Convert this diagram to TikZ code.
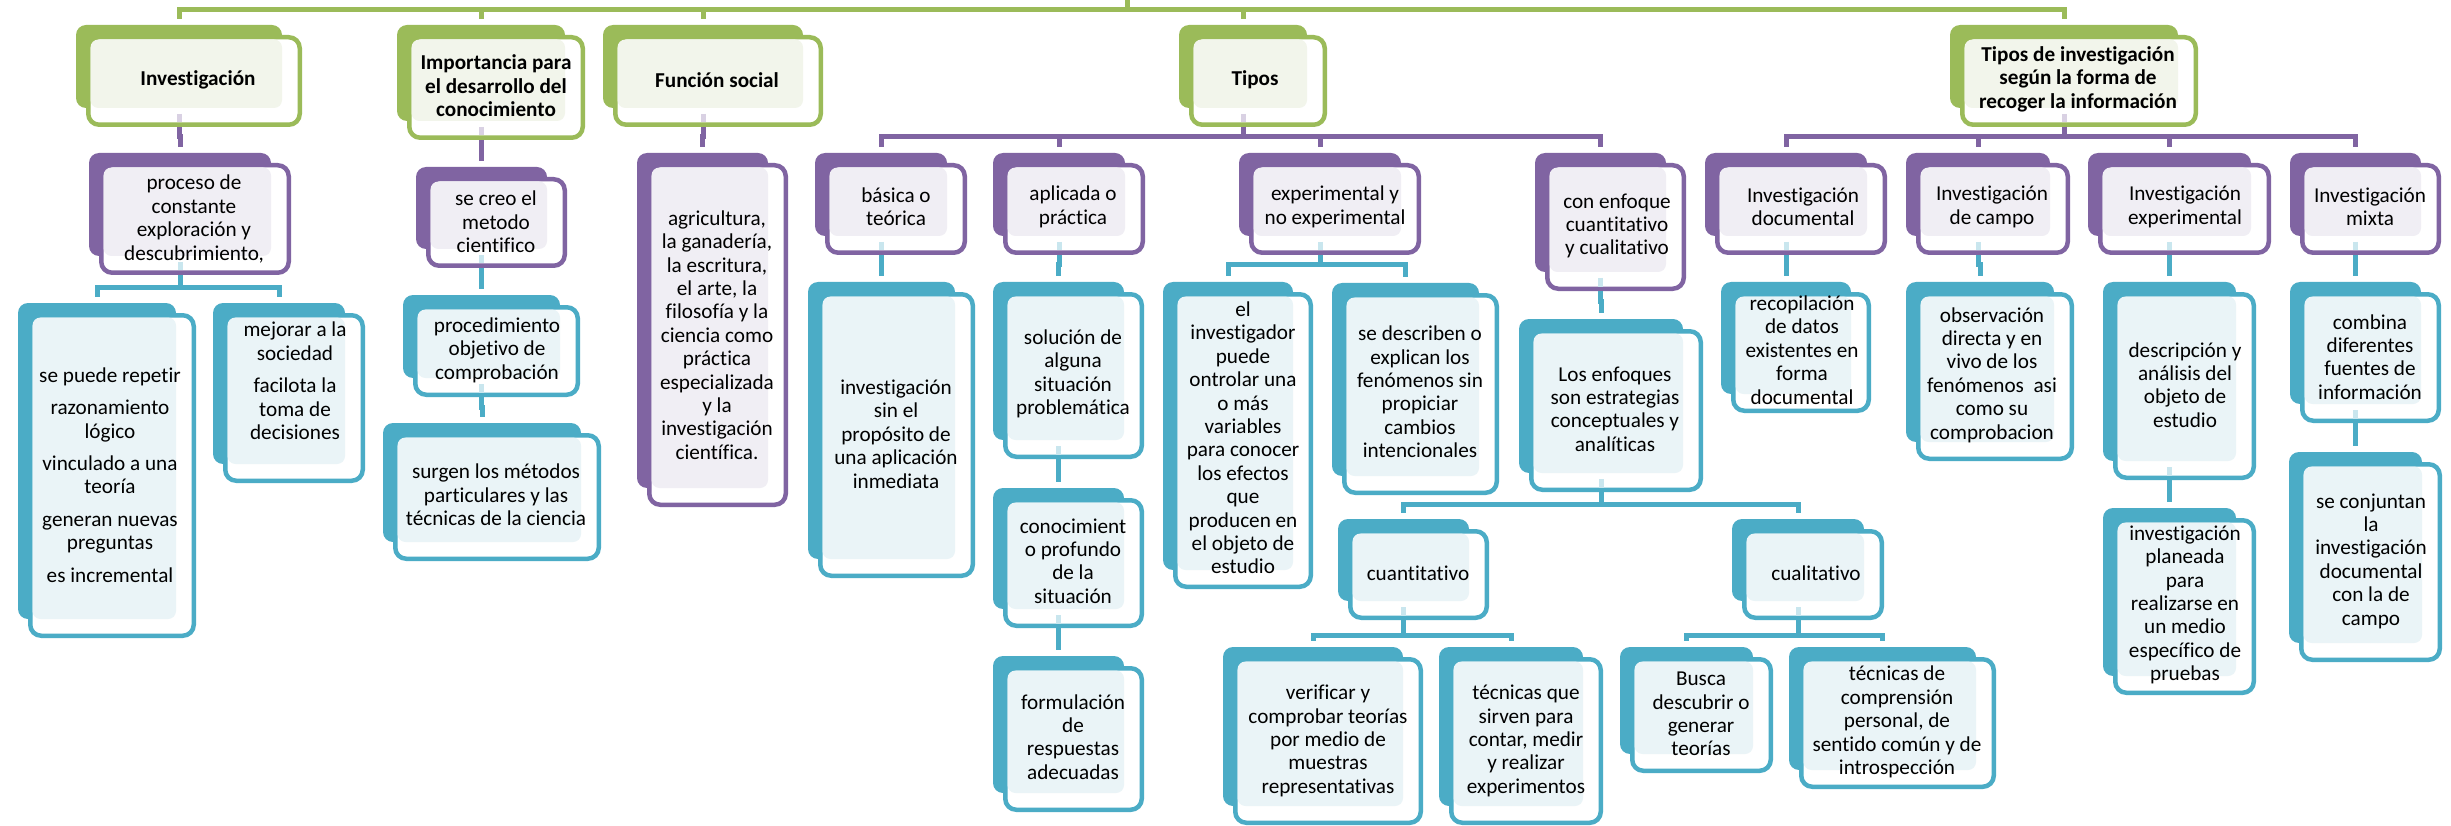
\documentclass[tikz,border=0pt]{standalone}
\usepackage{fontspec}
\setmainfont{Carlito}[Ligatures={NoCommon}]
\usetikzlibrary{calc}
\definecolor{gr}{HTML}{9BBB59}
\definecolor{grt}{HTML}{F2F5EB}
\definecolor{pu}{HTML}{8064A2}
\definecolor{put}{HTML}{F0EEF4}
\definecolor{tl}{HTML}{4BACC6}
\definecolor{tlt}{HTML}{EAF4F7}
\tikzset{
  backbox/.style={rounded corners=10pt, inner sep=0pt, outer sep=0pt, draw=none},
  frontbox/.style={line width=4.5pt, rounded corners=11pt, fill=white},
  txt/.style={font=\fontsize{21.2}{23.4}\selectfont, align=center, inner sep=0pt, text=black},
  ttl/.style={font=\fontsize{21.2}{23.4}\selectfont\bfseries, align=center, inner sep=0pt, text=black},
  cline/.style={line width=5pt},
}
% #1 name, #2 colour, #3 tint, #4 x1, #5 y1, #6 x2, #7 y2 (outer edges of the front frame)
\newcommand\cbox[7]{%
  \node[backbox, fill=#2, minimum width={#6-#4-10}, minimum height={#7-#5-9}] (#1) at ({(#4+#6-30)/2},{(#5+#7-29)/2}) {};
  \draw[frontbox, draw=#2] ({#4+2.25},{#5+2.25}) rectangle ({#6-2.25},{#7-2.25});
  \fill[#3, rounded corners=8pt] ({#4+4.5},{#5+4.5}) rectangle ({#6-20},{#7-19});
}
\newcommand\cn[4]{\draw[cline,#1] ([yshift=-19pt]#2.south) -- ++(0,#4) -| ([yshift=6pt]#3.north);}
\newcommand\stub[2]{\draw[line width=5pt,#2!30] ([yshift=-6pt]#1.south) -- ([yshift=-14.5pt]#1.south);}
\begin{document}
\begin{tikzpicture}[x=1pt,y=-1pt]
\useasboundingbox (0,0) rectangle (2451,826);
\fill[white] (0,0) rectangle (2451,826);
\coordinate (root) at (1127,0);
% level 1
\cbox{inv}{gr}{grt}{86}{35}{302}{127}
\cbox{imp}{gr}{grt}{407}{35}{585}{140}
\cbox{fun}{gr}{grt}{613}{35}{823}{127}
\cbox{tip}{gr}{grt}{1189}{35}{1327}{127}
\cbox{tdi}{gr}{grt}{1960}{35}{2198}{127}
% level 2
\cbox{proceso}{pu}{put}{99}{163}{291}{275}
\cbox{secreo}{pu}{put}{426}{177}{567}{268}
\cbox{agri}{pu}{put}{647}{163}{788}{507}
\cbox{basica}{pu}{put}{825}{163}{967}{255}
\cbox{aplicada}{pu}{put}{1003}{163}{1145}{255}
\cbox{experimental}{pu}{put}{1249}{163}{1421}{255}
\cbox{conenf}{pu}{put}{1545}{163}{1686}{291}
\cbox{idoc}{pu}{put}{1715}{163}{1887}{255}
\cbox{icampo}{pu}{put}{1916}{163}{2070}{255}
\cbox{iexp}{pu}{put}{2098}{163}{2271}{255}
\cbox{imix}{pu}{put}{2300}{163}{2441}{255}
% level 3+
\cbox{sepuede}{tl}{tlt}{28}{313}{196}{638}
\cbox{mejorar}{tl}{tlt}{223}{313}{365}{483}
\cbox{proced}{tl}{tlt}{413}{305}{580}{397}
\cbox{surgen}{tl}{tlt}{393}{433}{601}{561}
\cbox{invsin}{tl}{tlt}{818}{292}{975}{578}
\cbox{solucion}{tl}{tlt}{1003}{292}{1144}{459}
\cbox{conoc}{tl}{tlt}{1003}{498}{1144}{628}
\cbox{formul}{tl}{tlt}{1003}{666}{1144}{812}
\cbox{elinv}{tl}{tlt}{1173}{292}{1313}{589}
\cbox{sedescr}{tl}{tlt}{1342}{293}{1499}{495}
\cbox{losenf}{tl}{tlt}{1529}{329}{1703}{492}
\cbox{cuanti}{tl}{tlt}{1348}{529}{1489}{620}
\cbox{cuali}{tl}{tlt}{1742}{529}{1884}{620}
\cbox{verif}{tl}{tlt}{1233}{657}{1423}{825}
\cbox{tecq}{tl}{tlt}{1449}{657}{1603}{825}
\cbox{busca}{tl}{tlt}{1630}{657}{1773}{773}
\cbox{tecc}{tl}{tlt}{1799}{657}{1996}{789}
\cbox{recop}{tl}{tlt}{1731}{292}{1871}{413}
\cbox{obs}{tl}{tlt}{1916}{292}{2074}{461}
\cbox{desc}{tl}{tlt}{2113}{292}{2256}{480}
\cbox{planeada}{tl}{tlt}{2113}{518}{2256}{695}
\cbox{comb}{tl}{tlt}{2300}{292}{2441}{423}
\cbox{conj}{tl}{tlt}{2299}{462}{2442}{662}
% texts
\node[ttl] (t-inv) at (198,80) {Investigación};
\node[ttl] (t-imp) at (496,86) {Importancia para\\el desarrollo del\\conocimiento};
\node[ttl] (t-fun) at (717,80) {Función social};
\node[ttl] (t-tip) at (1255,80) {Tipos};
\node[ttl] (t-tdi) at (2078,79) {Tipos de investigación\\según la forma de\\recoger la información};
\node[txt] (t-proceso) at (194,219) {proceso de\\constante\\exploración y\\descubrimiento,};
\node[txt] (t-secreo) at (496,222) {se creo el\\metodo\\cientifico};
\node[txt] (t-agri) at (717,335) {agricultura,\\la ganadería,\\la escritura,\\el arte, la\\filosofía y la\\ciencia como\\práctica\\especializada\\y la\\investigación\\científica.};
\node[txt] (t-basica) at (896,207) {básica o\\teórica};
\node[txt] (t-aplicada) at (1073,207) {aplicada o\\práctica};
\node[txt] (t-experimental) at (1335,207) {experimental y\\no experimental};
\node[txt] (t-conenf) at (1617,226) {con enfoque\\cuantitativo\\y cualitativo};
\node[txt] (t-idoc) at (1803,207) {Investigación\\documental};
\node[txt] (t-icampo) at (1992,207) {Investigación\\de campo};
\node[txt] (t-iexp) at (2185,207) {Investigación\\experimental};
\node[txt] (t-imix) at (2370,207) {Investigación\\mixta};
\node[txt] (t-sepuede) at (110,475) {se puede repetir\\[9pt]razonamiento\\lógico\\[9pt]vinculado a una\\teoría\\[9pt]generan nuevas\\preguntas\\[9pt]es incremental};
\node[txt] (t-mejorar) at (295,381) {mejorar a la\\sociedad\\[9pt]facilota la\\toma de\\decisiones};
\node[txt] (t-proced) at (497,350) {procedimiento\\objetivo de\\comprobación};
\node[txt] (t-surgen) at (496,495) {surgen los métodos\\particulares y las\\técnicas de la ciencia};
\node[txt] (t-invsin) at (896,434) {investigación\\sin el\\propósito de\\una aplicación\\inmediata};
\node[txt] (t-solucion) at (1073,374) {solución de\\alguna\\situación\\problemática};
\node[txt] (t-conoc) at (1073,561) {conocimient\\o profundo\\de la\\situación};
\node[txt] (t-formul) at (1073,737) {formulación\\de\\respuestas\\adecuadas};
\node[txt] (t-elinv) at (1243,438) {el\\investigador\\puede\\ontrolar una\\o más\\variables\\para conocer\\los efectos\\que\\producen en\\el objeto de\\estudio};
\node[txt] (t-sedescr) at (1420,392) {se describen o\\explican los\\fenómenos sin\\propiciar\\cambios\\intencionales};
\node[txt] (t-losenf) at (1615,409) {Los enfoques\\son estrategias\\conceptuales y\\analíticas};
\node[txt] (t-cuanti) at (1418,573) {cuantitativo};
\node[txt] (t-cuali) at (1816,573) {cualitativo};
\node[txt] (t-verif) at (1328,741) {verificar y\\comprobar teorías\\por medio de\\muestras\\representativas};
\node[txt] (t-tecq) at (1526,741) {técnicas que\\sirven para\\contar, medir\\y realizar\\experimentos};
\node[txt] (t-busca) at (1701,714) {Busca\\descubrir o\\generar\\teorías};
\node[txt] (t-tecc) at (1897,722) {técnicas de\\comprensión\\personal, de\\sentido común y de\\introspección};
\node[txt] (t-recop) at (1802,350) {recopilación\\de datos\\existentes en\\forma\\documental};
\node[txt] (t-obs) at (1992,375) {observación\\directa y en\\vivo de los\\fenómenos\ \ asi\\como su\\comprobacion};
\node[txt] (t-desc) at (2185,385) {descripción y\\análisis del\\objeto de\\estudio};
\node[txt] (t-planeada) at (2185,605) {investigación\\planeada\\para\\realizarse en\\un medio\\específico de\\pruebas};
\node[txt] (t-comb) at (2370,357) {combina\\diferentes\\fuentes de\\información};
\node[txt] (t-conj) at (2371,561) {se conjuntan\\la\\investigación\\documental\\con la de\\campo};
% connectors
\foreach \n in {inv,imp,fun,tip,tdi}{
  \draw[cline,gr] (root) -- ++(0,9.5) -| ([yshift=6pt]\n.north);
}
\cn{pu}{inv}{proceso}{10}
\cn{pu}{imp}{secreo}{10}
\cn{pu}{fun}{agri}{10}
\cn{pu}{tip}{basica}{10}
\cn{pu}{tip}{aplicada}{10}
\cn{pu}{tip}{experimental}{10}
\cn{pu}{tip}{conenf}{10}
\cn{pu}{tdi}{idoc}{10}
\cn{pu}{tdi}{icampo}{10}
\cn{pu}{tdi}{iexp}{10}
\cn{pu}{tdi}{imix}{10}
\cn{tl}{proceso}{sepuede}{12}
\cn{tl}{proceso}{mejorar}{12}
\cn{tl}{secreo}{proced}{10}
\cn{tl}{proced}{surgen}{10}
\cn{tl}{basica}{invsin}{10}
\cn{tl}{aplicada}{solucion}{10}
\cn{tl}{solucion}{conoc}{10}
\cn{tl}{conoc}{formul}{10}
\cn{tl}{experimental}{elinv}{10}
\cn{tl}{experimental}{sedescr}{10}
\cn{tl}{conenf}{losenf}{10}
\cn{tl}{losenf}{cuanti}{12}
\cn{tl}{losenf}{cuali}{12}
\cn{tl}{cuanti}{verif}{15}
\cn{tl}{cuanti}{tecq}{15}
\cn{tl}{cuali}{busca}{15}
\cn{tl}{cuali}{tecc}{15}
\cn{tl}{idoc}{recop}{10}
\cn{tl}{icampo}{obs}{10}
\cn{tl}{iexp}{desc}{10}
\cn{tl}{imix}{comb}{10}
\cn{tl}{desc}{planeada}{10}
\cn{tl}{comb}{conj}{10}
% faint stubs inside parents
\foreach \n in {inv,imp,fun,tip,tdi}{\stub{\n}{pu}}
\foreach \n in {proceso,secreo,basica,aplicada,experimental,conenf,idoc,icampo,iexp,imix,proced,solucion,conoc,losenf,cuanti,cuali,desc,comb}{\stub{\n}{tl}}
\end{tikzpicture}
\end{document}
